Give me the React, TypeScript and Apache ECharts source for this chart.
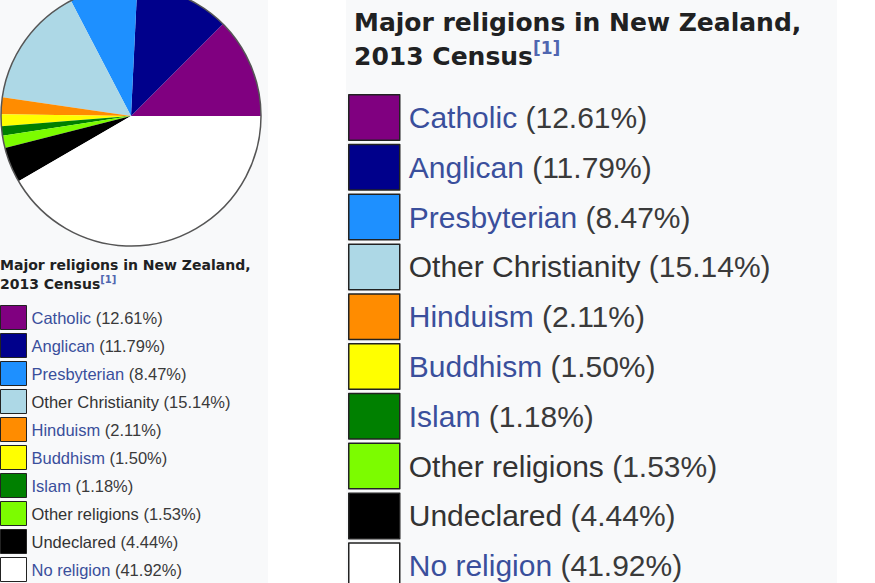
import React, { useEffect, useRef } from "react";
import * as echarts from "echarts";

const religions = [
  "Catholic",
  "Anglican",
  "Presbyterian",
  "Other Christianity",
  "Hinduism",
  "Buddhism",
  "Islam",
  "Other religions",
  "Undeclared",
  "No religion",
];
const shares = [12.61, 11.79, 8.47, 15.14, 2.11, 1.5, 1.18, 1.53, 4.44, 41.92];
const sliceColors = [
  "#800080",
  "#00008b",
  "#1e90ff",
  "#add8e6",
  "#ff8c00",
  "#ffff00",
  "#008000",
  "#7cfc00",
  "#000000",
  "#ffffff",
];
const linked = [true, true, true, false, true, true, true, false, false, true];
const titleLines = ["Major religions in New Zealand,", "2013 Census"];
const footnote = "[1]";

const SANS = '"Liberation Sans", Arial, sans-serif';
const TITLE_FONT = '"DejaVu Sans", sans-serif';
const LINK = "#3a4f9c";
const DARK = "#333333";
const PCT = "#3a3a3a";
const PANEL = "#f8f9fa";

const makeRich = (size: number) => ({
  l: { color: LINK, fontSize: size, fontFamily: SANS },
  d: { color: DARK, fontSize: size, fontFamily: SANS },
  p: { color: PCT, fontSize: size, fontFamily: SANS },
});

const legendFormatter = (name: string) => {
  const i = religions.indexOf(name);
  return `{${linked[i] ? "l" : "d"}|${name}}{p| (${shares[i].toFixed(2)}%)}`;
};

const titleText = `{t|${titleLines[0]}}\n{t|${titleLines[1]}}{s|${footnote}}`;

const makeTitleRich = (size: number, lh: number, supSize: number) => ({
  t: {
    fontFamily: TITLE_FONT,
    fontWeight: "bold",
    fontSize: size,
    lineHeight: lh,
    color: "#202122",
  },
  s: {
    fontFamily: TITLE_FONT,
    fontSize: supSize,
    lineHeight: supSize + 1,
    verticalAlign: "top",
    color: "#5066b0",
  },
});

export default function App() {
  const ref = useRef<HTMLDivElement>(null);

  useEffect(() => {
    if (!ref.current) return;
    const chart = echarts.init(ref.current, undefined, { renderer: "svg" });
    const pieData = religions.map((name, i) => ({
      name,
      value: shares[i],
      itemStyle: { color: sliceColors[i] },
    }));

    chart.setOption({
      animation: false,
      backgroundColor: "#ffffff",
      graphic: {
        elements: [
          {
            type: "rect",
            left: 0,
            top: 0,
            z: -10,
            silent: true,
            shape: { width: 268, height: 583 },
            style: { fill: PANEL },
          },
          {
            type: "rect",
            left: 346,
            top: 0,
            z: -10,
            silent: true,
            shape: { width: 491, height: 583 },
            style: { fill: PANEL },
          },
          {
            type: "circle",
            z: 100,
            silent: true,
            shape: { cx: 131, cy: 116, r: 130 },
            style: { fill: "none", stroke: "#555555", lineWidth: 1.5 },
          },
        ],
      },
      title: [
        {
          left: 0,
          top: 255.5,
          padding: 0,
          text: titleText,
          textStyle: { rich: makeTitleRich(14, 19, 10) },
        },
        {
          left: 354,
          top: 5.5,
          padding: 0,
          text: titleText,
          textStyle: { rich: makeTitleRich(25, 34, 17) },
        },
      ],
      legend: [
        {
          data: religions,
          orient: "vertical",
          left: 0,
          top: 305,
          width: 260,
          height: 400,
          padding: 0,
          itemWidth: 26,
          itemHeight: 24,
          itemGap: 3,
          icon: "rect",
          selectedMode: false,
          itemStyle: { borderColor: "#222222", borderWidth: 1 },
          formatter: legendFormatter,
          textStyle: { fontSize: 16.5, fontFamily: SANS, rich: makeRich(16.5) },
        },
        {
          data: religions,
          orient: "vertical",
          left: 348,
          top: 94,
          width: 480,
          height: 700,
          padding: 0,
          itemWidth: 51,
          itemHeight: 45.5,
          itemGap: 2.8,
          icon: "rect",
          selectedMode: false,
          itemStyle: { borderColor: "#222222", borderWidth: 1.5 },
          formatter: legendFormatter,
          textStyle: {
            fontSize: 30,
            fontFamily: SANS,
            padding: [0, 0, 0, 4],
            rich: makeRich(30),
          },
        },
      ],
      series: [
        {
          type: "pie",
          center: [131, 116],
          radius: 130,
          startAngle: 0,
          clockwise: false,
          silent: true,
          label: { show: false },
          labelLine: { show: false },
          emphasis: { disabled: true },
          itemStyle: { borderWidth: 0 },
          data: pieData,
        },
      ],
    });

    return () => chart.dispose();
  }, []);

  return (
    <div
      ref={ref}
      style={{ position: "fixed", left: 0, top: 0, width: 875, height: 583 }}
    />
  );
}
